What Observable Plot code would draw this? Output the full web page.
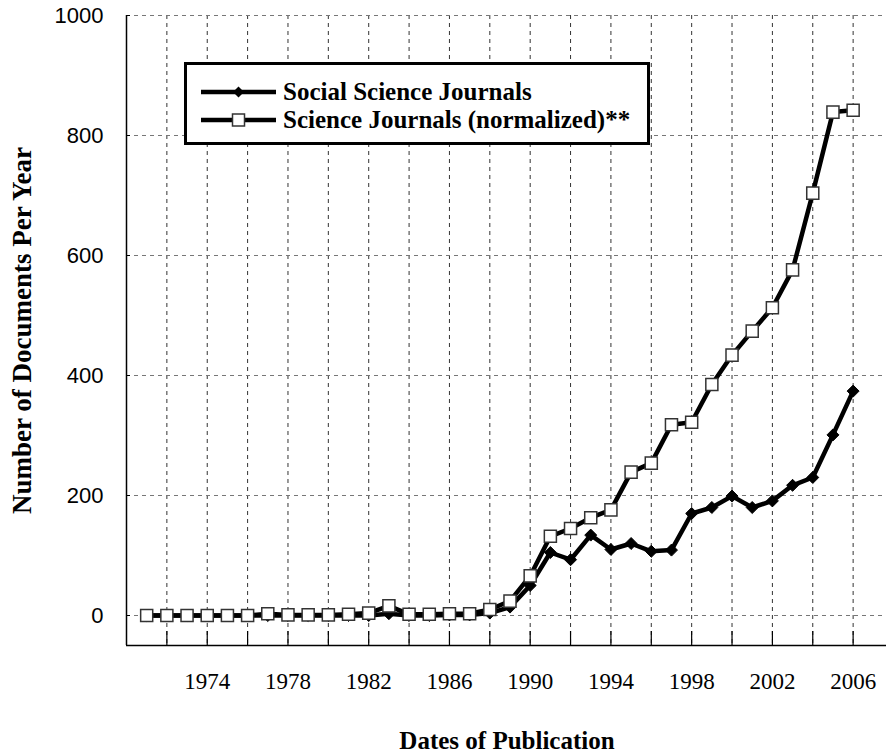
<!DOCTYPE html>
<html><head><meta charset="utf-8">
<script src="https://cdn.jsdelivr.net/npm/d3@7"></script>
<script src="https://cdn.jsdelivr.net/npm/@observablehq/plot@0.6"></script>
<style>
html,body{margin:0;padding:0;background:#fff;overflow:hidden;}
#wrap{position:relative;width:886px;height:753px;overflow:hidden;}
#chart svg{max-width:none !important;display:block;}
#legend{position:absolute;left:184px;top:62px;width:466px;height:83px;box-sizing:border-box;border:3px solid #000;background:#fff;font-family:"Liberation Serif","Times New Roman",serif;font-weight:bold;font-size:25px;color:#000;}
.row{position:absolute;left:14px;height:28px;display:flex;align-items:center;white-space:nowrap;}
.row svg{margin-right:7px;}
</style></head>
<body><div id="wrap"><div id="chart"></div>
<div id="legend">
  <div class="row" style="top:13px"><svg width="75" height="20"><line x1="0" y1="10" x2="75" y2="10" stroke="#000" stroke-width="4.5"/><path d="M37.5,4.5L43,10L37.5,15.5L32,10Z" fill="#000"/></svg><span>Social Science Journals</span></div>
  <div class="row" style="top:41px"><svg width="75" height="20"><line x1="0" y1="10" x2="75" y2="10" stroke="#000" stroke-width="4.5"/><rect x="31.5" y="4" width="12" height="12" fill="#fff" stroke="#333" stroke-width="1.5"/></svg><span>Science Journals (normalized)**</span></div>
</div>
</div>
<script>
const years = [1971,1972,1973,1974,1975,1976,1977,1978,1979,1980,1981,1982,1983,1984,1985,1986,1987,1988,1989,1990,1991,1992,1993,1994,1995,1996,1997,1998,1999,2000,2001,2002,2003,2004,2005,2006];
const socialScience = [0,0,0,0,0,0,0,0,0,0,0,0,3,0,0,1,1,4,14,50,105,93,134,110,120,107,109,170,180,199,180,191,217,230,301,374];
const scienceNormalized = [0,0,0,0,0,0,3,1,1,1,2,4,16,2,2,3,3,10,24,66,132,145,163,176,239,254,318,322,385,434,474,513,576,704,839,842];
const xTickYears = [1974,1978,1982,1986,1990,1994,1998,2002,2006];
const xGridYears = [1972,1974,1976,1978,1980,1982,1984,1986,1988,1990,1992,1994,1996,1998,2000,2002,2004,2006];
const yTicks = [0,200,400,600,800,1000];
const seriesNames = ["Social Science Journals","Science Journals (normalized)**"];

const social = years.map((y,i)=>({year:y, value:socialScience[i]}));
const science = years.map((y,i)=>({year:y, value:scienceNormalized[i]}));

const serif = "'Liberation Serif','Times New Roman',serif";
const sans = "'Liberation Sans',Arial,sans-serif";

const chart = Plot.plot({
  width: 893, height: 753,
  marginLeft: 126, marginRight: 0, marginTop: 15, marginBottom: 108,
  x: {domain: [1970, 2008]},
  y: {domain: [-50, 1000]},
  style: {background: "#fff", overflow: "visible", maxWidth: "none"},
  marks: [
    Plot.ruleX(xGridYears, {stroke: "#333", strokeWidth: 1, strokeDasharray: "4,4"}),
    Plot.ruleY(yTicks, {stroke: "#777", strokeWidth: 1, strokeDasharray: "4,4"}),
    Plot.axisX({ticks: xGridYears, tickSize: 14, dy: -14, tickFormat: () => "", label: null, strokeWidth: 1.2}),
    Plot.axisY({ticks: yTicks, tickSize: 4, dx: 4, tickFormat: () => "", label: null}),
    Plot.axisY({ticks: yTicks, tickSize: 0, tickPadding: 23, tickFormat: d => String(d), fontSize: 22, fontFamily: sans, label: null, fill: "#000"}),
    Plot.axisX({ticks: xTickYears, tickSize: 0, tickPadding: 27, tickFormat: d => String(d), fontSize: 23, fontFamily: serif, label: null, fill: "#000"}),
    Plot.ruleX([1970], {stroke: "#000", strokeWidth: 1.5}),
    Plot.ruleY([-50], {stroke: "#000", strokeWidth: 1.5}),
    Plot.line(social, {x: "year", y: "value", stroke: "#000", strokeWidth: 4.5, strokeLinejoin: "round"}),
    Plot.line(science, {x: "year", y: "value", stroke: "#000", strokeWidth: 4.5, strokeLinejoin: "round"}),
    Plot.dot(social, {x: "year", y: "value", symbol: "diamond2", r: 5.4, fill: "#000", stroke: "#000", strokeWidth: 1}),
    Plot.dot(science, {x: "year", y: "value", symbol: "square", r: 6.8, fill: "#fff", stroke: "#333", strokeWidth: 1.5}),
    Plot.text(["Dates of Publication"], {frameAnchor: "bottom", dy: 95, dx: -3, lineAnchor: "middle", fontSize: 25, fontWeight: "bold", fontFamily: serif, fill: "#000"}),
    Plot.text(["Number of Documents Per Year"], {frameAnchor: "left", dx: -104, rotate: -90, lineAnchor: "middle", textAnchor: "middle", fontSize: 27, fontWeight: "bold", fontFamily: serif, fill: "#000"})
  ]
});
document.getElementById("chart").appendChild(chart);
</script>
</body></html>
